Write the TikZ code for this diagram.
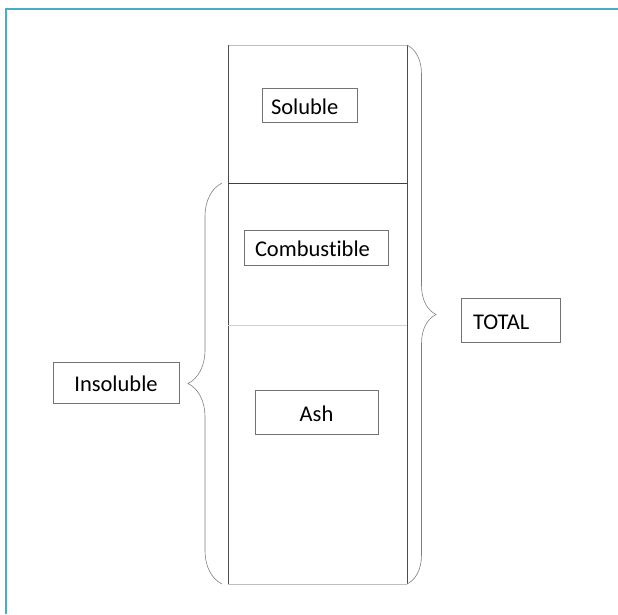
\documentclass[tikz,border=0pt]{standalone}
\usepackage{fontspec}
\setmainfont{Carlito}[Ligatures=NoCommon]
\usetikzlibrary{decorations.pathreplacing}
\definecolor{framecol}{RGB}{75,172,198}

\begin{document}
\begin{tikzpicture}[x=1pt,y=-1pt,
  box/.style={draw=black!55,line width=0.7pt,inner ysep=0pt,
    text height=18.5pt,text depth=0.5pt,
    font=\fontsize{22.5}{26}\selectfont},
  accol/.style={draw=black!50,line width=0.6pt,decorate}]
  \useasboundingbox (0,0) rectangle (618,614);
  % cadre
  \draw[framecol,line width=2pt] (6,614) -- (6,9) -- (618,9);
  % colonne
  \coordinate (tl) at (228,45);
  \coordinate (tr) at (407,45);
  \coordinate (bl) at (228,584);
  \coordinate (br) at (407,584);
  \draw[black!25,line width=0.8pt] (tl) -- (tr);
  \draw[black!25,line width=0.8pt] (bl) -- (br);
  \draw[black!70,line width=0.7pt] (tl) -- (bl);
  \draw[black!70,line width=0.7pt] (tr) -- (br);
  % separations
  \coordinate (s1l) at (228,183);
  \coordinate (s1r) at (407,183);
  \coordinate (s2l) at (228,325);
  \coordinate (s2r) at (407,325);
  \draw[black!75,line width=0.7pt] (s1l) -- (s1r);
  \draw[black!18,line width=0.8pt] (s2l) -- (s2r);
  % accolade gauche (insoluble)
  \coordinate (ib) at (222,584);
  \coordinate (it) at (222,183);
  \draw[accol,decoration={brace,amplitude=34pt}] (ib) -- (it);
  % accolade droite (total)
  \draw[accol,decoration={brace,amplitude=29pt}] (tr) -- (br);
  % etiquettes
  \node[box,text width=77pt,inner xsep=9pt,align=left,minimum height=34pt]
    (sol) at (309.5,105) {Soluble};
  \node[box,text width=122pt,inner xsep=11pt,align=left,minimum height=35pt]
    (comb) at (316,247.5) {Combustible};
  \node[box,minimum width=123pt,minimum height=44pt]
    (ash) at (316.5,412) {Ash};
  \node[box,minimum width=126pt,minimum height=41pt]
    (insol) at (116,382.5) {Insoluble};
  \node[box,text width=75pt,inner xsep=12pt,align=left,minimum height=44pt]
    (tot) at (510.5,320) {TOTAL};
\end{tikzpicture}
\end{document}
